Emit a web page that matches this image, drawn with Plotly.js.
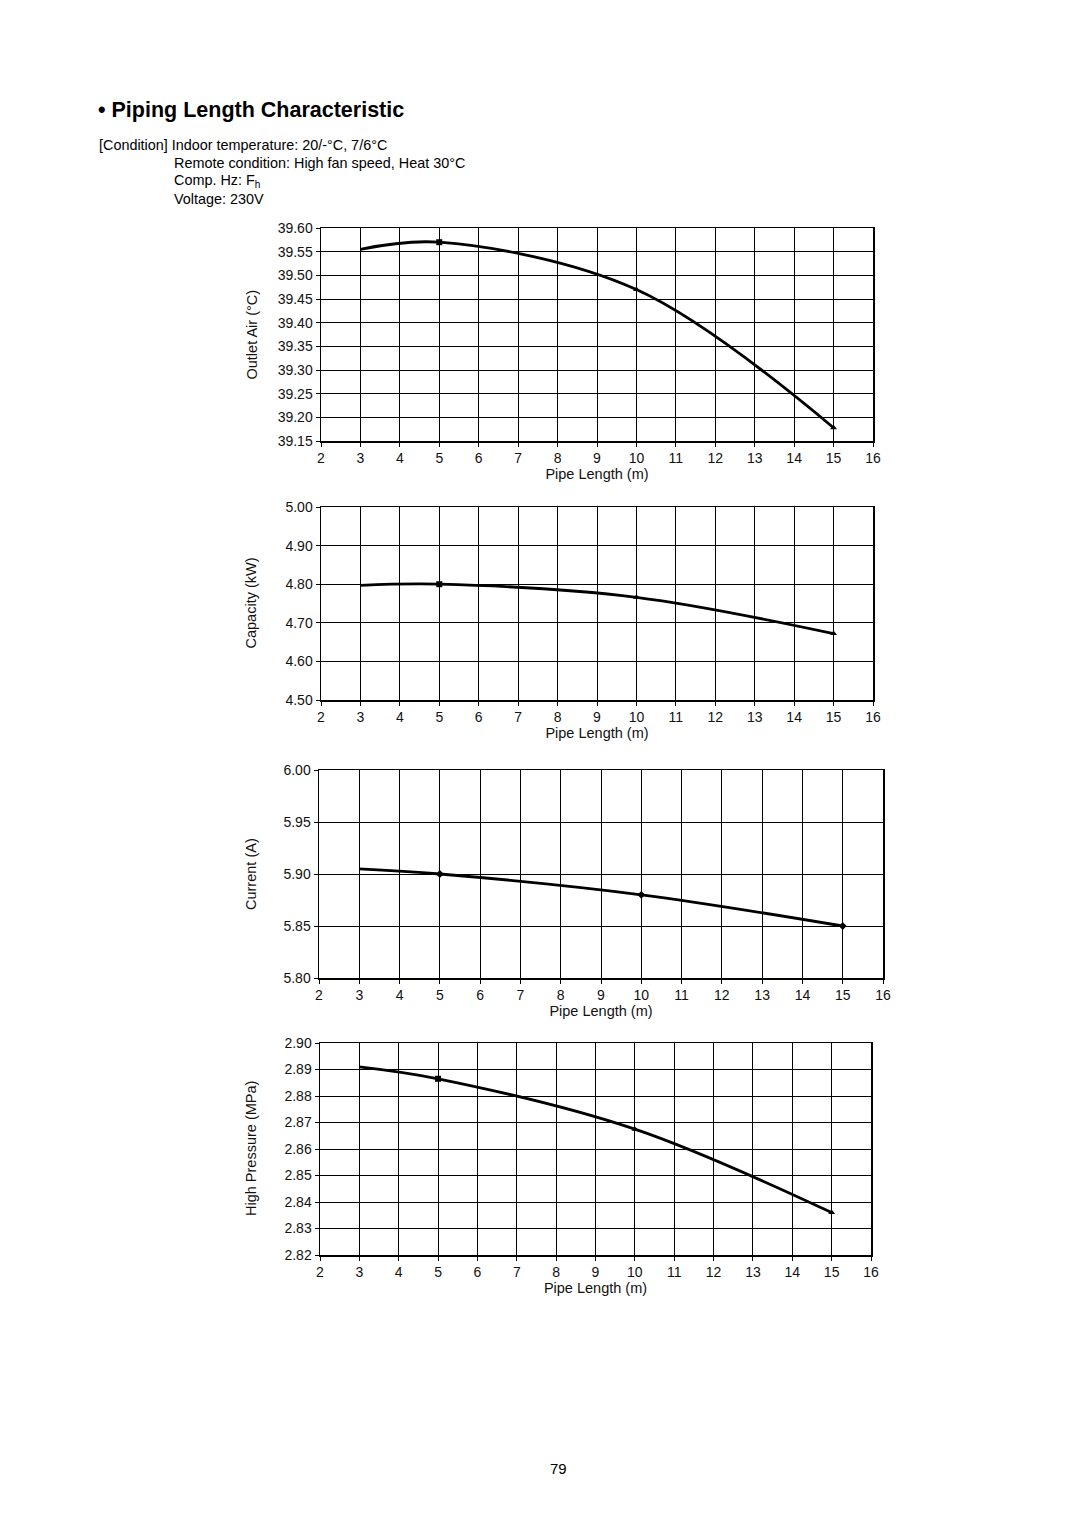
<!DOCTYPE html>
<html><head><meta charset="utf-8">
<script src="https://cdn.plot.ly/plotly-3.0.1.min.js"></script>
<style>html,body{margin:0;padding:0;background:#fff}#c{width:1080px;height:1527px}</style>
</head><body><div id="c"></div>
<script>
const pipeLength = [3, 5, 10, 15];
const outletAir = [39.555, 39.570, 39.470, 39.178];
const capacity = [4.797, 4.800, 4.766, 4.672];
const current = [5.905, 5.900, 5.880, 5.850];
const highPressure = [2.891, 2.8865, 2.8675, 2.836];
const xTicks = [2,3,4,5,6,7,8,9,10,11,12,13,14,15,16];
const yTitles = ["Outlet Air (°C)", "Capacity (kW)", "Current (A)", "High Pressure (MPa)"];
const xTitle = "Pipe Length (m)";

const W = 1080, H = 1527;
const font = "Liberation Sans, Arial, Helvetica, sans-serif";
const panels = [
  {y: outletAir, yr: [39.15, 39.60], dt: 0.05, px: [321, 873], py: [228, 441], sym: ["square","triangle-up","triangle-up"]},
  {y: capacity, yr: [4.50, 5.00], dt: 0.10, px: [321, 873], py: [507, 700], sym: ["square","triangle-up","triangle-up"]},
  {y: current, yr: [5.80, 6.00], dt: 0.05, px: [319, 883], py: [770, 978], sym: ["diamond","diamond","diamond"]},
  {y: highPressure, yr: [2.82, 2.90], dt: 0.01, px: [320, 871], py: [1043, 1255], sym: ["square","triangle-up","triangle-up"]}
];

const data = [];
const layout = {
  width: W, height: H, margin: {l:0, r:0, t:0, b:0},
  paper_bgcolor: "#fff", plot_bgcolor: "#fff", showlegend: false,
  font: {family: font, color: "#111", size: 14},
  annotations: []
};

panels.forEach((p, i) => {
  const n = i === 0 ? "" : String(i + 1);
  data.push({
    x: pipeLength, y: p.y, xaxis: "x" + n, yaxis: "y" + n,
    type: "scatter", mode: "lines",
    line: {color: "#000", width: 2.8, shape: "spline", smoothing: 1}
  });
  data.push({
    x: pipeLength.slice(1), y: p.y.slice(1), xaxis: "x" + n, yaxis: "y" + n,
    type: "scatter", mode: "markers",
    marker: {color: "#000", size: 6, symbol: p.sym, line: {color: "#000", width: 0}}
  });
  layout["xaxis" + n] = {
    domain: [p.px[0] / W, p.px[1] / W], anchor: "y" + n,
    range: [2, 16], tickvals: xTicks, ticks: "outside", ticklen: 4, tickcolor: "#000",
    showgrid: true, gridcolor: "#000", gridwidth: 1,
    showline: true, linecolor: "#000", linewidth: 1.5, mirror: true,
    zeroline: false, tickfont: {size: 14, family: font, color: "#111"},
    title: {text: xTitle, font: {size: 14.5, family: font, color: "#111"}, standoff: 3},
    fixedrange: true
  };
  layout["yaxis" + n] = {
    domain: [1 - p.py[1] / H, 1 - p.py[0] / H], anchor: "x" + n,
    range: p.yr, dtick: p.dt, tick0: p.yr[0], tickformat: ".2f",
    ticks: "outside", ticklen: 4, tickcolor: "#000",
    showgrid: true, gridcolor: "#000", gridwidth: 1,
    showline: true, linecolor: "#000", linewidth: 1.5, mirror: true,
    zeroline: false, tickfont: {size: 14, family: font, color: "#111"},
    fixedrange: true
  };
  layout.annotations.push({
    text: yTitles[i], xref: "paper", yref: "paper",
    x: 251 / W, y: 1 - ((p.py[0] + p.py[1]) / 2) / H,
    textangle: -90, showarrow: false, xanchor: "center", yanchor: "middle",
    font: {size: 14.5, family: font, color: "#111"}
  });
});

const txt = (t, x, y, size, extra) => layout.annotations.push(Object.assign({
  text: t, xref: "paper", yref: "paper", x: x / W, y: 1 - y / H,
  showarrow: false, xanchor: "left", yanchor: "middle",
  font: {size: size, family: font, color: "#000"}
}, extra || {}));

txt("<b>• Piping Length Characteristic</b>", 96, 110, 21.5);
txt("[Condition] Indoor temperature: 20/-°C, 7/6°C", 97, 145, 14.4);
txt("Remote condition: High fan speed, Heat 30°C", 172, 163, 14.4);
txt("Comp. Hz: F<sub>h</sub>", 172, 181, 14.4);
txt("Voltage: 230V", 172, 199, 14.4);
txt("79", 558, 1468, 15, {xanchor: "center"});

Plotly.newPlot("c", data, layout, {staticPlot: true, displayModeBar: false});
</script></body></html>
